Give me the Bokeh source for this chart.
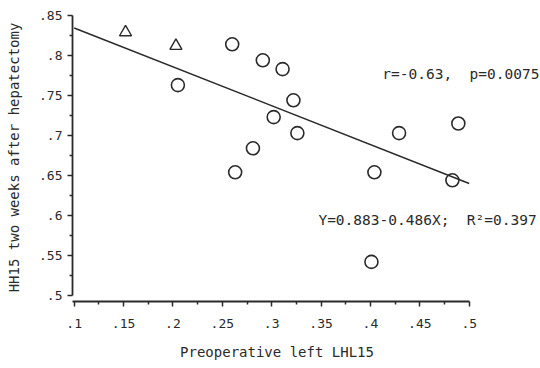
from bokeh.plotting import figure
from bokeh.models import FixedTicker, Label, Range1d
from bokeh.embed import file_html
from bokeh.resources import INLINE

# data
circle_x = [0.205, 0.260, 0.291, 0.311, 0.322, 0.302, 0.326, 0.281, 0.263,
            0.404, 0.429, 0.489, 0.483, 0.401]
circle_y = [0.763, 0.814, 0.794, 0.783, 0.744, 0.723, 0.703, 0.684, 0.654,
            0.654, 0.703, 0.715, 0.644, 0.542]
tri_x = [0.152, 0.203]
tri_y = [0.829, 0.812]
intercept = 0.883
slope = -0.486
fit_x = [0.1, 0.5]
x_ticks = [0.1, 0.15, 0.2, 0.25, 0.3, 0.35, 0.4, 0.45, 0.5]
x_labels = [".1", ".15", ".2", ".25", ".3", ".35", ".4", ".45", ".5"]
y_ticks = [0.5, 0.55, 0.6, 0.65, 0.7, 0.75, 0.8, 0.85]
y_labels = [".5", ".55", ".6", ".65", ".7", ".75", ".8", ".85"]
stat_text = "r=-0.63,\u00a0 p=0.0075"
eq_text = "Y=0.883-0.486X;\u00a0 R\u00b2=0.397"
x_title = "Preoperative left LHL15"
y_title = "HH15 two weeks after hepatectomy"

FONT = "DejaVu Sans Mono"
INK = "#2a2a2a"
X0 = 0.09828

p = figure(width=540, height=368, output_backend="svg", toolbar_location=None,
           x_range=Range1d(X0, 0.5722), y_range=Range1d(0.4925, 0.8525),
           min_border_left=72, min_border_right=0, min_border_top=13,
           min_border_bottom=67)
p.frame_width = 468
p.frame_height = 288
p.outline_line_color = None
p.grid.visible = False
p.background_fill_color = "white"
p.border_fill_color = "white"

fit_y = [intercept + slope * v for v in fit_x]
p.line(fit_x, fit_y, line_color=INK, line_width=1.5)
p.scatter(circle_x, circle_y, marker="circle", size=13, fill_color=None,
          line_color=INK, line_width=1.6)
p.scatter(tri_x, tri_y, marker="triangle", size=12, fill_color=None,
          line_color=INK, line_width=1.4)

for ax, ticks, labels in ((p.xaxis[0], x_ticks, x_labels), (p.yaxis[0], y_ticks, y_labels)):
    minor = [round(t + 0.025, 4) for t in ticks[:-1]]
    ax.ticker = FixedTicker(ticks=ticks, minor_ticks=minor)
    ax.major_label_overrides = {t: l for t, l in zip(ticks, labels)}
    ax.axis_line_color = INK
    ax.axis_line_width = 1.8
    ax.major_tick_line_color = INK
    ax.minor_tick_line_color = INK
    ax.major_tick_line_width = 1.5
    ax.minor_tick_line_width = 1.5
    ax.major_tick_out = 5
    ax.major_tick_in = 0
    ax.minor_tick_out = 3
    ax.minor_tick_in = 0
    ax.major_label_text_font = FONT
    ax.major_label_text_font_size = "13px"
    ax.major_label_text_color = INK
    ax.axis_label_text_font = FONT
    ax.axis_label_text_font_size = "14px"
    ax.axis_label_text_font_style = "normal"
    ax.axis_label_text_color = INK

p.xaxis[0].bounds = (X0, 0.5)
p.yaxis[0].bounds = (0.5, 0.85)
p.yaxis[0].major_label_standoff = 5
p.yaxis[0].axis_label = y_title
p.yaxis[0].axis_label_standoff = 14
p.xaxis[0].major_label_standoff = 12
# trailing no-break spaces shift the centred title left, under the axis line
p.xaxis[0].axis_label = x_title + "\u00a0" * 7
p.xaxis[0].axis_label_standoff = 13

p.add_layout(Label(x=0.412, y=0.7763, text=stat_text, text_font=FONT,
                   text_font_size="14.5px", text_color=INK, text_baseline="middle"))
p.add_layout(Label(x=0.3473, y=0.5938, text=eq_text, text_font=FONT,
                   text_font_size="14.5px", text_color=INK, text_baseline="middle"))

open("out.html", "w").write(file_html(p, INLINE))
